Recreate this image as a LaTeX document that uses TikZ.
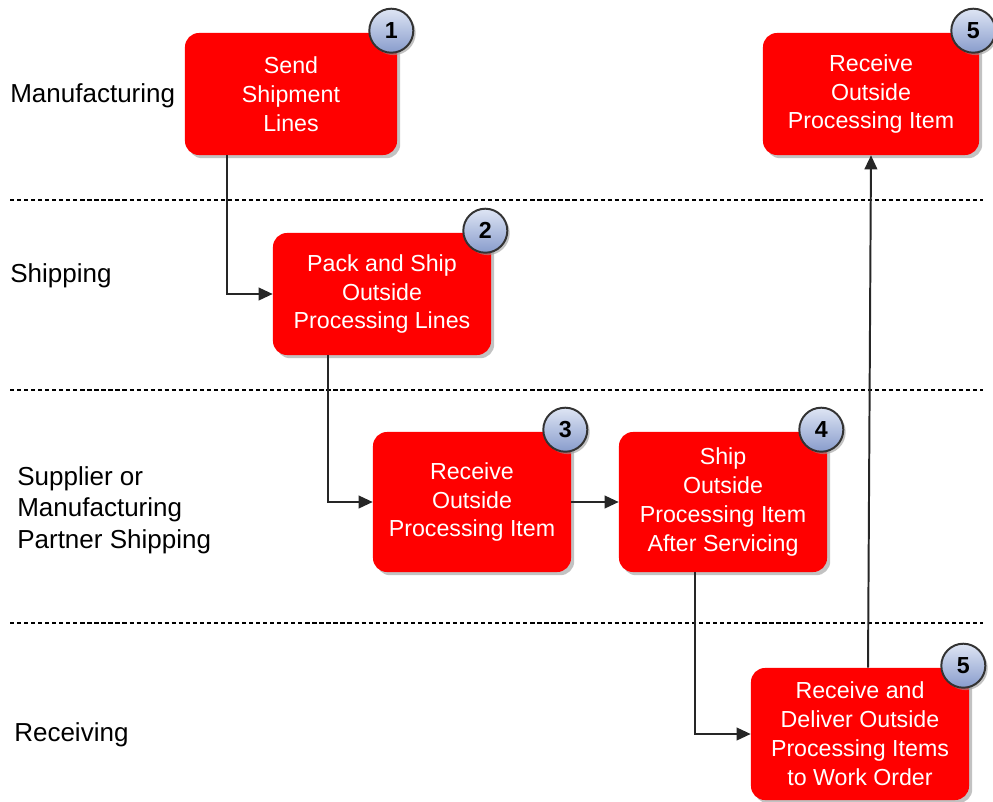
\documentclass[tikz,border=0pt]{standalone}
\usepackage{fontspec}
\setmainfont{Liberation Sans}
\usetikzlibrary{positioning}
\usetikzlibrary{shadows}
\usetikzlibrary{arrows.meta}
\definecolor{boxred}{RGB}{255,0,0}
\definecolor{badgetop}{RGB}{222,229,244}
\definecolor{badgebottom}{RGB}{136,156,204}

\begin{document}
\begin{tikzpicture}
			[
				x = 0.025cm, y = -0.025cm,
				stepbox/.style = {rectangle, rounded corners = 0.35cm, fill = boxred, text = white, align = center, inner sep = 0pt, font = \fontsize{16.5}{20.6}\selectfont, drop shadow = {shadow xshift = 0.08cm, shadow yshift = -0.08cm, fill = black!40, opacity = 0.6}},
				badge/.style = {circle, minimum size = 1.1cm, inner sep = 0pt, draw = black!80, line width = 1.4pt, top color = badgetop, bottom color = badgebottom, font = \bfseries\fontsize{16.5}{18}\selectfont, xshift = -0.15cm, yshift = 0.05cm, drop shadow = {shadow xshift = 0.06cm, shadow yshift = -0.06cm, fill = black!40, opacity = 0.6}},
				lane/.style = {anchor = west, align = left, inner sep = 0pt, font = \fontsize{18.5}{22.5}\selectfont},
				divider/.style = {line width = 1.2pt, dash pattern = on 3pt off 2pt},
				flow/.style = {-{Triangle[length = 10pt, width = 9pt]}, line width = 1.4pt, black!85},
			]
			\useasboundingbox (0,0) rectangle (993,802);
			% swim lanes
			\node (manufacturing) [lane] at (10,96) {Manufacturing};
			\node (shipping) [lane] at (10,276) {Shipping};
			\node (supplier) [lane] at (17,510) {Supplier or\\Manufacturing\\Partner Shipping};
			\node (receiving) [lane] at (14,735) {Receiving};
			\draw [divider] (10,200) -- (983,200);
			\draw [divider] (10,390) -- (983,390);
			\draw [divider] (10,623) -- (983,623);
			% steps
			\node (send) [stepbox, minimum width = 5.3cm, minimum height = 3.05cm] at (291,94) {Send\\Shipment\\Lines};
			\node (pack) [stepbox, minimum width = 5.45cm, minimum height = 3.05cm] at (382,294) {Pack and Ship\\Outside\\Processing Lines};
			\node (receive) [stepbox, minimum width = 4.95cm, minimum height = 3.5cm] at (472,502) {Receive\\Outside\\Processing Item};
			\node (shipback) [stepbox, minimum width = 5.2cm, minimum height = 3.5cm] at (723,502) {Ship\\Outside\\Processing Item\\After Servicing};
			\node (deliver) [stepbox, minimum width = 5.45cm, minimum height = 3.3cm] at (860,734) {Receive and\\Deliver Outside\\Processing Items\\to Work Order};
			\node (receiveitem) [stepbox, minimum width = 5.4cm, minimum height = 3.05cm] at (871,94) {Receive\\Outside\\Processing Item};
			% step numbers
			\node (n1) [badge] at (send.north east) {1};
			\node (n2) [badge] at (pack.north east) {2};
			\node (n3) [badge] at (receive.north east) {3};
			\node (n4) [badge] at (shipback.north east) {4};
			\node (n5a) [badge] at (deliver.north east) {5};
			\node (n5b) [badge] at (receiveitem.north east) {5};
			% flow
			\draw [flow] ([xshift = 1.05cm]send.south west) |- (pack.west);
			\draw [flow] ([xshift = 1.375cm]pack.south west) |- (receive.west);
			\draw [flow] (receive.east) -- (shipback.west);
			\draw [flow] ([xshift = 1.9cm]shipback.south west) |- (deliver.west);
			\draw [flow] ([xshift = 0.2cm]deliver.north) -- (receiveitem.south);
		\end{tikzpicture}
\end{document}
